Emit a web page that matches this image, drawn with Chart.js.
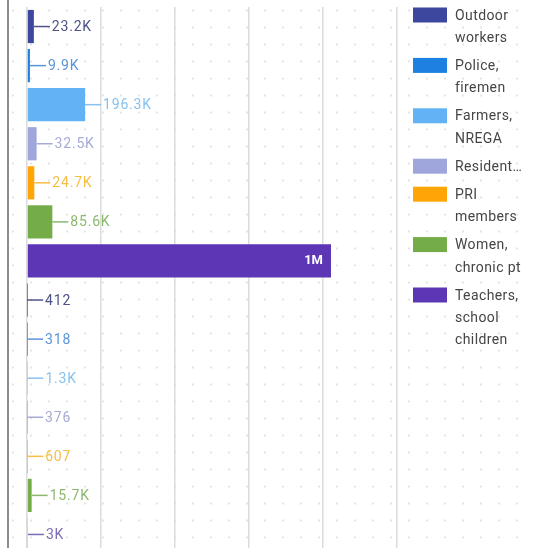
<!DOCTYPE html>
<html>
<head>
<meta charset="utf-8">
<script src="https://cdn.jsdelivr.net/npm/chart.js@4.4.1/dist/chart.umd.min.js"></script>
<style>
  html, body { margin: 0; padding: 0; background: #fff; overflow: hidden; }
  #wrap {
    position: relative; width: 534px; height: 548px; overflow: hidden;
    background-image: radial-gradient(circle, #e4e4e4 0.9px, transparent 1.3px);
    background-size: 18px 17px;
    background-position: 4px 2px;
  }
  #edge { position: absolute; left: 7px; top: 0; width: 2px; height: 548px; background: #8c8c8c; }
  canvas { position: absolute; left: 0; top: 0; }
</style>
</head>
<body>
<div id="wrap">
  <div id="edge"></div>
  <canvas id="chart" width="534" height="560"></canvas>
</div>
<script>
// two groups of bars, one value per series in each
const groups = ['Group 1', 'Group 2'];
const seriesNames = ['Outdoor workers', 'Police, firemen', 'Farmers, NREGA', 'Residents', 'PRI members', 'Women, chronic pt', 'Teachers, school children'];
const legendLines = [['Outdoor', 'workers'], ['Police,', 'firemen'], ['Farmers,', 'NREGA'], ['Resident…'], ['PRI', 'members'], ['Women,', 'chronic pt'], ['Teachers,', 'school', 'children']];
const colors = ['#3d479e', '#1e80e0', '#62b2f5', '#9ea6dc', '#ffa505', '#74ad47', '#5c36b4'];
const labelColors = ['#4d5388', '#5a95d8', '#86c1ef', '#a6abd6', '#f7bd45', '#8cb86c', '#7d6cb8'];
const group1 = [23200, 9900, 196300, 32500, 24700, 85600, 1027000];
const group2 = [412, 318, 1300, 376, 607, 15700, 3000];
const xTicks = [0, 250000, 500000, 750000, 1000000, 1250000];

const fmt = new Intl.NumberFormat('en-US', { notation: 'compact', maximumFractionDigits: 1 });

const barLabels = {
  id: 'barLabels',
  afterDatasetsDraw(chart) {
    const ctx = chart.ctx;
    ctx.save();
    chart.data.datasets.forEach((ds, i) => {
      chart.getDatasetMeta(i).data.forEach((bar, j) => {
        const v = ds.data[j];
        const txt = fmt.format(v);
        ctx.textBaseline = 'middle';
        if (v > 500000) {
          ctx.font = 'bold 13px Roboto';
          ctx.fillStyle = '#fff';
          ctx.textAlign = 'right';
          ctx.fillText(txt, bar.x - 8, bar.y);
        } else {
          ctx.strokeStyle = labelColors[i];
          ctx.lineWidth = 1.5;
          ctx.beginPath();
          ctx.moveTo(bar.x, bar.y);
          ctx.lineTo(bar.x + 16, bar.y);
          ctx.stroke();
          ctx.font = '14px Roboto';
          ctx.letterSpacing = '0.8px';
          ctx.fillStyle = labelColors[i];
          ctx.textAlign = 'left';
          ctx.fillText(txt, bar.x + 18, bar.y + 1);
          ctx.letterSpacing = '0px';
        }
      });
    });
    ctx.restore();
  }
};

const sideLegend = {
  id: 'sideLegend',
  afterDraw(chart) {
    const ctx = chart.ctx;
    const lineH = 22.4, gap = 5.6;
    let y = 15;
    ctx.save();
    ctx.font = '14px Roboto';
    ctx.letterSpacing = '0.4px';
    ctx.textBaseline = 'middle';
    ctx.textAlign = 'left';
    legendLines.forEach((lines, i) => {
      ctx.fillStyle = colors[i];
      ctx.fillRect(413, y - 7.5, 34, 15);
      ctx.fillStyle = '#454545';
      lines.forEach((t, k) => ctx.fillText(t, 455, y + k * lineH + 1));
      y += lines.length * lineH + gap;
    });
    ctx.restore();
  }
};

new Chart(document.getElementById('chart'), {
  type: 'bar',
  data: {
    labels: groups,
    datasets: seriesNames.map((name, i) => ({
      label: name,
      data: [group1[i], group2[i]],
      backgroundColor: colors[i],
      categoryPercentage: 1,
      barPercentage: 0.85
    }))
  },
  options: {
    indexAxis: 'y',
    responsive: false,
    animation: false,
    layout: { padding: { left: 27, top: 7, right: 137, bottom: 6 } },
    scales: {
      x: {
        min: 0,
        max: 1250000,
        afterBuildTicks: (scale) => { scale.ticks = xTicks.map(v => ({ value: v })); },
        ticks: { display: false },
        border: { display: false },
        grid: { color: '#dcdcdc', lineWidth: 1.5, drawTicks: false }
      },
      y: { display: false }
    },
    plugins: {
      legend: { display: false },
      tooltip: { enabled: false }
    }
  },
  plugins: [barLabels, sideLegend]
});
</script>
</body>
</html>
